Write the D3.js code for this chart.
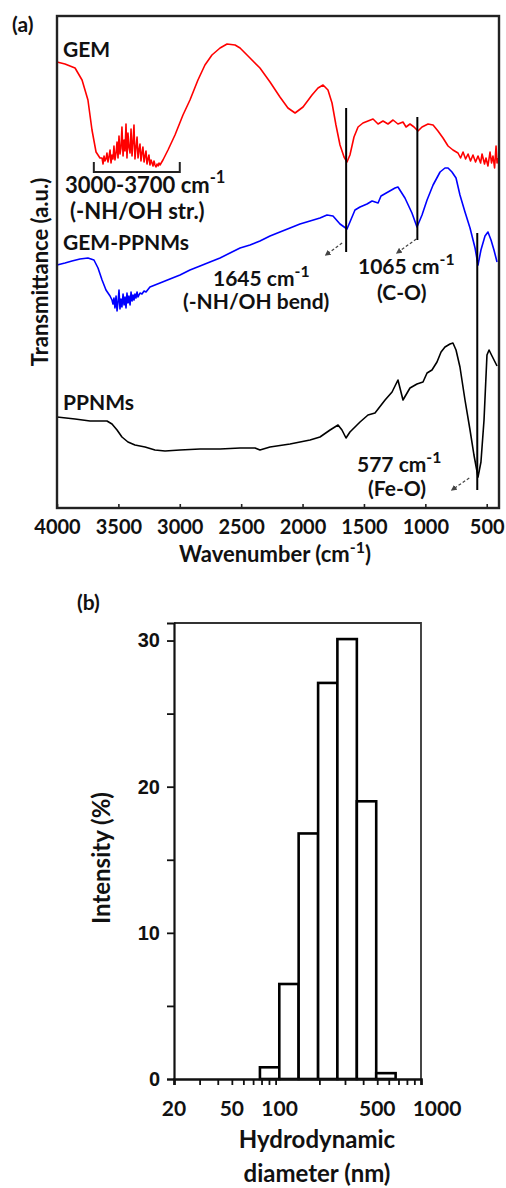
<!DOCTYPE html>
<html>
<head>
<meta charset="utf-8">
<script src="https://cdn.jsdelivr.net/npm/d3@7"></script>
<style>
  body { margin: 0; background: #fff; }
  svg text { font-family: Lato, "Open Sans", sans-serif; font-weight: bold; fill: #111; }
</style>
</head>
<body>
<svg id="chart" width="506" height="1188"></svg>
<script>
// ---- panel (a): FTIR spectra, [wavenumber cm-1, transmittance a.u.] ----
const gemSpectrum = [
  [4000,446],[3935,444],[3853,440],[3796,428],[3748,408],[3715,378],[3682,356],[3650,350],
  [3633,350],[3625,344],[3617,352],[3609,347],[3601,349],[3593,355],[3585,346],[3577,351],[3568,358],[3560,345],
  [3552,353],[3544,349],[3536,362],[3528,348],[3519,355],[3511,366],[3503,350],[3495,372],[3487,354],[3479,360],
  [3471,381],[3462,352],[3454,368],[3446,357],[3438,384],[3430,350],[3422,375],[3414,361],[3405,355],[3397,379],
  [3389,352],[3381,366],[3373,383],[3365,349],[3357,360],[3348,371],[3340,350],[3332,358],[3324,364],[3316,347],
  [3308,355],[3300,361],[3291,346],[3283,352],[3275,357],[3267,344],[3259,349],[3251,353],[3243,343],[3234,348],
  [3226,345],[3218,342],[3210,347],[3202,343],[3194,341],[3185,344],[3177,342],[3169,345],[3161,343],
  [3137,348],[3096,358],[3039,373],[2974,393],[2917,408],[2852,428],[2795,443],[2738,453],[2672,460],[2615,464],
  [2550,463],[2509,460],[2428,450],[2347,440],[2265,426],[2184,411],[2119,400],[2061,395],[1996,401],[1923,413],
  [1874,420],[1833,423],[1793,418],[1760,405],[1728,383],[1695,363],[1662,351],[1638,346],[1614,353],[1581,371],
  [1548,381],[1508,385],[1467,387],[1426,389],[1385,384],[1345,387],[1304,384],[1263,388],[1223,384],[1182,386],
  [1157,381],[1125,384],[1092,381],[1060,377],[1027,381],[978,384],[937,383],[897,377],[856,370],[815,362],
  [775,358],[734,355],[713,350],[693,356],[672,349],[652,354],[632,347],[612,353],[591,346],[571,352],[550,345],
  [538,354],[518,344],[506,350],[490,342],[473,356],[461,345],[449,352],[436,340],[424,362],[416,345],[408,350]
];
const gemPpnmSpectrum = [
  [4000,243],[3935,245],[3878,247],[3813,249],[3748,250],[3699,248],[3666,240],[3633,228],[3601,218],[3568,212],
  [3552,208],[3544,204],[3536,210],[3528,200],[3519,212],[3511,197],[3503,206],[3495,218],[3487,199],[3479,209],
  [3471,201],[3462,214],[3454,203],[3446,211],[3438,200],[3430,215],[3422,205],[3414,212],[3405,203],[3397,216],
  [3389,207],[3381,213],[3373,208],[3365,214],[3357,210],[3348,216],[3340,211],[3324,215],[3308,214],[3291,217],
  [3275,216],
  [3243,221],[3161,225],[3080,229],[2998,233],[2917,238],[2835,242],[2754,246],[2672,250],[2591,255],[2509,260],
  [2428,263],[2347,267],[2265,272],[2184,276],[2102,280],[2021,284],[1939,287],[1858,290],[1801,293],[1752,292],
  [1695,284],[1638,279],[1614,286],[1573,298],[1532,301],[1475,304],[1434,307],[1385,305],[1361,312],[1304,316],
  [1247,320],[1223,321],[1166,310],[1109,295],[1068,281],[1027,293],[986,308],[937,323],[880,336],[840,340],
  [815,340],[783,336],[750,330],[718,313],[677,296],[636,280],[595,260],[571,243],[547,258],[514,272],[490,276],
  [465,268],[441,258],[416,246]
];
const ppnmSpectrum = [
  [4000,91],[3853,89],[3731,87],[3593,87],[3552,84],[3511,78],[3471,71],[3422,66],[3365,63],[3283,61],[3202,58],
  [3120,57],[2998,58],[2835,59],[2672,59],[2509,60],[2387,60],[2347,58],[2265,61],[2102,64],[1939,68],[1858,71],
  [1776,78],[1711,83],[1679,78],[1646,70],[1614,76],[1532,86],[1467,93],[1410,95],[1328,108],[1271,116],[1223,128],
  [1182,108],[1125,120],[1068,124],[1019,126],[986,135],[946,138],[905,146],[872,156],[840,161],[799,164],[775,165],
  [750,158],[718,141],[677,108],[636,78],[604,53],[571,31],[547,46],[522,88],[498,153],[481,158],[457,152],[416,142]
];
const wavenumberTicks = [4000, 3500, 3000, 2500, 2000, 1500, 1000, 500];
// band marker lines: wavenumber, top and bottom in a.u.
const bandMarkers = [
  { wn: 1645, top: 400, bottom: 256 },
  { wn: 1065, top: 391, bottom: 268 },
  { wn: 577,  top: 275, bottom: 18 }
];

// ---- panel (b): DLS size distribution ----
const sizeBinEdges = [78, 106, 144, 196, 266, 362, 492, 669];
const intensityPct = [0.8, 6.5, 16.8, 27.1, 30.1, 19.0, 0.4];
const sizeTicks = [20,30,40,50,60,70,80,90,100,200,300,400,500,600,700,800,900,1000];
const sizeTickLabels = [20, 50, 100, 500, 1000];
const intensityTicks = [0, 5, 10, 15, 20, 25, 30];

const svg = d3.select('#chart');

function supLabel(x, y, base, sup, size) {
  const t = svg.append('text').attr('x', x).attr('y', y).style('font-size', size + 'px');
  t.append('tspan').text(base);
  t.append('tspan').attr('dy', -size * 0.45).style('font-size', (size * 0.75) + 'px').text(sup);
  return t;
}

// ================= panel (a) =================
const xA = d3.scaleLinear().domain([4000, 400]).range([57, 499]);
const yA = d3.scaleLinear().domain([0, 492]).range([508, 16]);

const lineA = d3.line().x(d => xA(d[0])).y(d => yA(d[1]));

[[gemSpectrum, '#ff0000'], [gemPpnmSpectrum, '#0000ff'], [ppnmSpectrum, '#000']].forEach(([data, col]) => {
  svg.append('path')
    .datum(data)
    .attr('d', lineA)
    .attr('fill', 'none')
    .attr('stroke', col)
    .attr('stroke-width', 1.6)
    .attr('stroke-linejoin', 'round');
});

// frame
svg.append('rect')
  .attr('x', 57).attr('y', 16).attr('width', 442).attr('height', 492)
  .attr('fill', 'none').attr('stroke', '#222').attr('stroke-width', 2.4);

const axA = svg.append('g')
  .attr('transform', 'translate(0,508)')
  .call(d3.axisBottom(xA).tickValues(wavenumberTicks).tickFormat(d3.format('d'))
    .tickSizeInner(-4).tickSizeOuter(0).tickPadding(12));
axA.select('.domain').remove();
axA.selectAll('line').attr('stroke', '#222').attr('stroke-width', 1.6);
axA.selectAll('text').style('font-size', '20px').style('font-family', 'Lato, sans-serif').attr('fill', '#111');

// band markers and small dashed arrows
bandMarkers.forEach(m => {
  svg.append('line')
    .attr('x1', xA(m.wn)).attr('x2', xA(m.wn))
    .attr('y1', yA(m.top)).attr('y2', yA(m.bottom))
    .attr('stroke', '#000').attr('stroke-width', 2);
});

svg.append('defs').append('marker')
  .attr('id', 'arrowhead')
  .attr('viewBox', '0 0 10 10').attr('refX', 5).attr('refY', 5)
  .attr('markerWidth', 5).attr('markerHeight', 5).attr('orient', 'auto')
  .append('path').attr('d', 'M0,0 L10,5 L0,10 z').attr('fill', '#444');

const arrowOffsets = [
  { wn: 1645, y: 256, dx1: -4, dy1: -9, dx2: -19, dy2: 2 },
  { wn: 1065, y: 268, dx1: -1, dy1: -1, dx2: -19, dy2: 12 },
  { wn: 577,  y: 18,  dx1: -8, dy1: -12, dx2: -24, dy2: -1 }
];
arrowOffsets.forEach(a => {
  const x0 = xA(a.wn), y0 = yA(a.y);
  svg.append('line')
    .attr('x1', x0 + a.dx1).attr('y1', y0 + a.dy1)
    .attr('x2', x0 + a.dx2).attr('y2', y0 + a.dy2)
    .attr('stroke', '#444').attr('stroke-width', 1.2)
    .attr('stroke-dasharray', '3,2')
    .attr('marker-end', 'url(#arrowhead)');
});

// bracket under 3000-3700 band
svg.append('path')
  .attr('d', `M${xA(3700)},162 V172 H${xA(3000)} V162`)
  .attr('fill', 'none').attr('stroke', '#222').attr('stroke-width', 2);

// labels
svg.append('text').attr('x', 12).attr('y', 32).style('font-size', '21px').text('(a)');
svg.append('text').attr('x', 63).attr('y', 57).style('font-size', '21px').text('GEM');
supLabel(65, 193, '3000-3700 cm', '-1', 22);
svg.append('text').attr('x', 70).attr('y', 219).style('font-size', '22px').text('(-NH/OH str.)');
svg.append('text').attr('x', 63).attr('y', 250).style('font-size', '21px').text('GEM-PPNMs');
supLabel(213, 286, '1645 cm', '-1', 21);
svg.append('text').attr('x', 183).attr('y', 309).style('font-size', '21px').text('(-NH/OH bend)');
supLabel(358, 274, '1065 cm', '-1', 21);
svg.append('text').attr('x', 377).attr('y', 300).style('font-size', '21px').text('(C-O)');
svg.append('text').attr('x', 63).attr('y', 410).style('font-size', '21px').text('PPNMs');
supLabel(357, 472, '577 cm', '-1', 21);
svg.append('text').attr('x', 368).attr('y', 496).style('font-size', '21px').text('(Fe-O)');

svg.append('text')
  .attr('transform', 'translate(48,272) rotate(-90)')
  .attr('text-anchor', 'middle')
  .style('font-size', '22px')
  .text('Transmittance (a.u.)');

const xTitle = svg.append('text').attr('x', 275).attr('y', 562)
  .attr('text-anchor', 'middle').style('font-size', '22px');
xTitle.append('tspan').text('Wavenumber (cm');
xTitle.append('tspan').attr('dy', -9).style('font-size', '16px').text('-1');
xTitle.append('tspan').attr('dy', 9).text(')');

// ================= panel (b) =================
const xB = d3.scaleLog().domain([20, 1000]).range([174, 421]);
const yB = d3.scaleLinear().domain([0, 31.2]).range([1079, 623]);

const bins = intensityPct.map((v, i) => ({ x0: sizeBinEdges[i], x1: sizeBinEdges[i + 1], v }));

svg.append('g').selectAll('rect')
  .data(bins)
  .join('rect')
  .attr('x', d => xB(d.x0))
  .attr('width', d => xB(d.x1) - xB(d.x0))
  .attr('y', d => yB(d.v))
  .attr('height', d => yB(0) - yB(d.v))
  .attr('fill', '#fff')
  .attr('stroke', '#000')
  .attr('stroke-width', 2.6);

// top and right frame
svg.append('path')
  .attr('d', `M174,623 H421 V1079`)
  .attr('fill', 'none').attr('stroke', '#333').attr('stroke-width', 1.8);

const ayB = svg.append('g')
  .attr('transform', 'translate(174,0)')
  .call(d3.axisLeft(yB).tickValues(intensityTicks).tickSize(7).tickPadding(7)
    .tickFormat(d => d % 10 === 0 ? d : ''));
ayB.select('.domain').attr('stroke', '#111').attr('stroke-width', 2.2);
ayB.selectAll('line').attr('stroke', '#111').attr('stroke-width', 1.8);
ayB.selectAll('text')
  .style('font-size', '20px')
  .style('font-family', '"Liberation Sans", Arial, sans-serif')
  .attr('fill', '#111');

const axB = svg.append('g')
  .attr('transform', 'translate(0,1079)')
  .call(d3.axisBottom(xB).tickValues(sizeTicks).tickSize(6).tickFormat(''));
axB.select('.domain').attr('stroke', '#111').attr('stroke-width', 2.6);
axB.selectAll('line').attr('stroke', '#111').attr('stroke-width', 1.8);

svg.append('g').selectAll('text')
  .data(sizeTickLabels)
  .join('text')
  .attr('x', d => xB(d) + (d === 1000 ? 16 : (d === 100 ? 4 : 0)))
  .attr('y', 1116)
  .attr('text-anchor', 'middle')
  .style('font-size', '21px')
  .text(d => d);

svg.append('text').attr('x', 77).attr('y', 610).style('font-size', '21px').text('(b)');

svg.append('text')
  .attr('transform', 'translate(110,858) rotate(-90)')
  .attr('text-anchor', 'middle')
  .style('font-size', '24px')
  .text('Intensity (%)');

svg.append('text').attr('x', 317).attr('y', 1148)
  .attr('text-anchor', 'middle').style('font-size', '24px').text('Hydrodynamic');
svg.append('text').attr('x', 317).attr('y', 1182)
  .attr('text-anchor', 'middle').style('font-size', '24px').text('diameter (nm)');
</script>
</body>
</html>
